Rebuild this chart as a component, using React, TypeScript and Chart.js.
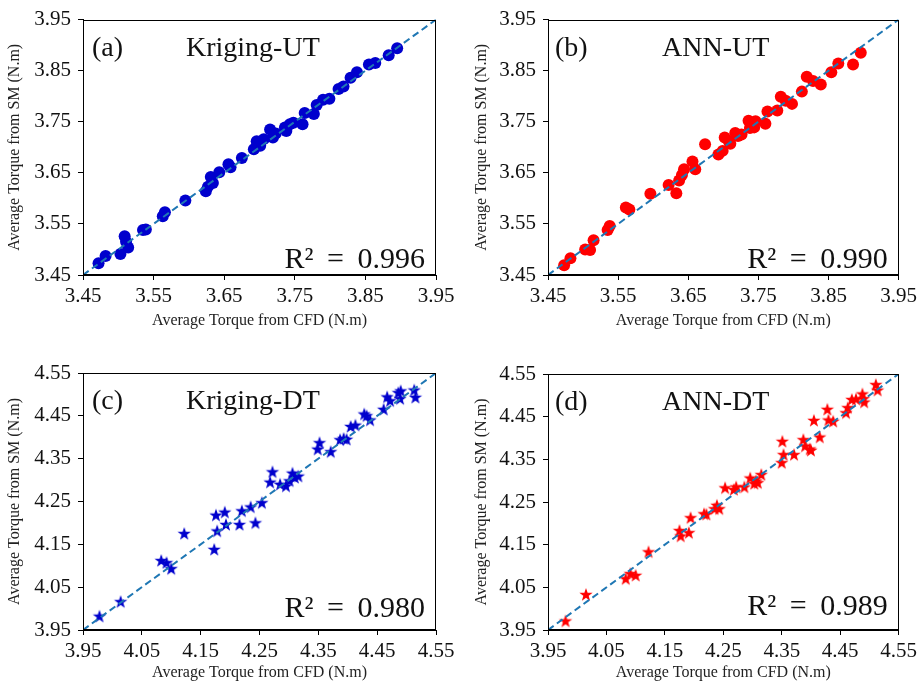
import { useEffect, useRef } from "react";
import { Chart, registerables } from "chart.js";
Chart.register(...registerables);

// ---------- data ----------
const utTicks = [3.45, 3.55, 3.65, 3.75, 3.85, 3.95];
const dtTicks = [3.95, 4.05, 4.15, 4.25, 4.35, 4.45, 4.55];
const utRange = [3.45, 3.95];
const dtRange = [3.95, 4.55];

const krigingUtCfd = [3.472, 3.482, 3.503, 3.509, 3.514, 3.511, 3.535, 3.539, 3.563, 3.566, 3.595, 3.624, 3.627, 3.631, 3.634, 3.643, 3.656, 3.659, 3.675, 3.692, 3.696, 3.701, 3.706, 3.715, 3.719, 3.723, 3.736, 3.738, 3.743, 3.748, 3.761, 3.764, 3.777, 3.781, 3.790, 3.799, 3.812, 3.819, 3.829, 3.838, 3.855, 3.864, 3.883, 3.895];
const krigingUtSm = [3.473, 3.487, 3.491, 3.526, 3.504, 3.515, 3.538, 3.539, 3.565, 3.573, 3.596, 3.614, 3.623, 3.642, 3.630, 3.651, 3.667, 3.661, 3.679, 3.696, 3.712, 3.703, 3.716, 3.735, 3.719, 3.727, 3.739, 3.732, 3.745, 3.748, 3.745, 3.767, 3.765, 3.783, 3.793, 3.795, 3.814, 3.819, 3.836, 3.847, 3.862, 3.865, 3.880, 3.894];

const annUtCfd = [3.473, 3.482, 3.503, 3.510, 3.515, 3.535, 3.538, 3.561, 3.566, 3.596, 3.622, 3.633, 3.637, 3.641, 3.644, 3.656, 3.660, 3.674, 3.693, 3.699, 3.702, 3.708, 3.710, 3.717, 3.721, 3.726, 3.736, 3.738, 3.746, 3.744, 3.760, 3.763, 3.777, 3.782, 3.789, 3.798, 3.812, 3.819, 3.828, 3.839, 3.854, 3.864, 3.885, 3.896];
const annUtSm = [3.469, 3.483, 3.500, 3.499, 3.518, 3.538, 3.546, 3.582, 3.578, 3.609, 3.626, 3.610, 3.635, 3.646, 3.657, 3.672, 3.657, 3.706, 3.686, 3.693, 3.719, 3.712, 3.707, 3.728, 3.722, 3.725, 3.752, 3.738, 3.751, 3.739, 3.746, 3.770, 3.772, 3.799, 3.791, 3.785, 3.809, 3.838, 3.830, 3.823, 3.847, 3.864, 3.862, 3.885];

const krigingDtCfd = [3.978, 4.014, 4.083, 4.092, 4.100, 4.122, 4.173, 4.176, 4.178, 4.191, 4.193, 4.216, 4.220, 4.235, 4.243, 4.254, 4.268, 4.272, 4.285, 4.295, 4.301, 4.306, 4.310, 4.316, 4.349, 4.352, 4.371, 4.387, 4.393, 4.398, 4.405, 4.413, 4.428, 4.432, 4.438, 4.461, 4.467, 4.472, 4.486, 4.489, 4.490, 4.513, 4.515];
const krigingDtSm = [3.981, 4.015, 4.111, 4.106, 4.092, 4.174, 4.137, 4.217, 4.180, 4.224, 4.195, 4.195, 4.227, 4.236, 4.199, 4.246, 4.294, 4.318, 4.289, 4.285, 4.297, 4.315, 4.305, 4.308, 4.371, 4.386, 4.365, 4.393, 4.396, 4.394, 4.424, 4.427, 4.453, 4.449, 4.439, 4.464, 4.493, 4.484, 4.503, 4.489, 4.507, 4.509, 4.492];

const annDtCfd = [3.980, 4.015, 4.083, 4.091, 4.100, 4.122, 4.175, 4.177, 4.191, 4.194, 4.217, 4.221, 4.235, 4.239, 4.243, 4.253, 4.268, 4.272, 4.286, 4.296, 4.303, 4.306, 4.309, 4.315, 4.350, 4.351, 4.353, 4.371, 4.387, 4.390, 4.398, 4.400, 4.405, 4.415, 4.428, 4.430, 4.438, 4.460, 4.463, 4.470, 4.477, 4.488, 4.491, 4.490, 4.511, 4.514];
const annDtSm = [3.970, 4.032, 4.069, 4.081, 4.077, 4.132, 4.182, 4.169, 4.177, 4.212, 4.221, 4.220, 4.233, 4.241, 4.233, 4.282, 4.278, 4.284, 4.284, 4.305, 4.292, 4.298, 4.294, 4.313, 4.341, 4.391, 4.360, 4.360, 4.395, 4.380, 4.373, 4.370, 4.440, 4.401, 4.466, 4.441, 4.438, 4.458, 4.470, 4.489, 4.490, 4.502, 4.483, 4.491, 4.524, 4.511];

const panelLabels = ["(a)", "(b)", "(c)", "(d)"];
const panelTitles = ["Kriging-UT", "ANN-UT", "Kriging-DT", "ANN-DT"];
const r2Values = ["0.996", "0.990", "0.980", "0.989"];
const xAxisTitle = "Average Torque from CFD (N.m)";
const yAxisTitle = "Average Torque from SM (N.m)";

// ---------- layout / style ----------
const SERIF = "'Liberation Serif', 'Times New Roman', serif";
const BLUE = "#0000cd";
const RED = "#ff0000";
const DIAG = "#1f77b4";

type PanelCfg = {
  left: number; top: number; width: number; height: number;
  yw: number; xh: number; padRight: number; padTop: number;
  yTitlePad: number; xTitlePad: number;
  labelDx: number; titleDx: number; r2Dy: number;
  cfd: number[]; sm: number[]; range: number[]; ticks: number[];
  color: string; star: boolean; idx: number;
};

const panels: PanelCfg[] = [
  { left: 0, top: 0, width: 460, height: 341, yw: 83, xh: 66, padRight: 24, padTop: 17, yTitlePad: 7, xTitlePad: 12, labelDx: 9, titleDx: 103, r2Dy: 7, cfd: krigingUtCfd, sm: krigingUtSm, range: utRange, ticks: utTicks, color: BLUE, star: false, idx: 0 },
  { left: 460, top: 0, width: 461, height: 341, yw: 88, xh: 66, padRight: 20, padTop: 17, yTitlePad: 14, xTitlePad: 12, labelDx: 7, titleDx: 114, r2Dy: 7, cfd: annUtCfd, sm: annUtSm, range: utRange, ticks: utTicks, color: RED, star: false, idx: 1 },
  { left: 0, top: 341, width: 460, height: 341, yw: 83, xh: 52, padRight: 24, padTop: 32, yTitlePad: 7, xTitlePad: 1, labelDx: 9, titleDx: 103, r2Dy: 13, cfd: krigingDtCfd, sm: krigingDtSm, range: dtRange, ticks: dtTicks, color: BLUE, star: true, idx: 2 },
  { left: 460, top: 341, width: 461, height: 341, yw: 88, xh: 52, padRight: 20, padTop: 33, yTitlePad: 14, xTitlePad: 1, labelDx: 7, titleDx: 114, r2Dy: 15, cfd: annDtCfd, sm: annDtSm, range: dtRange, ticks: dtTicks, color: RED, star: true, idx: 3 },
];

function makeStar(color: string, r: number) {
  const s = Math.ceil(r * 2 + 2);
  const c = document.createElement("canvas");
  c.width = s; c.height = s;
  const ctx = c.getContext("2d")!;
  ctx.beginPath();
  for (let i = 0; i < 10; i++) {
    const a = -Math.PI / 2 + (i * Math.PI) / 5;
    const rr = i % 2 === 0 ? r : r * 0.4;
    ctx.lineTo(s / 2 + rr * Math.cos(a), s / 2 + rr * Math.sin(a));
  }
  ctx.closePath();
  ctx.fillStyle = color;
  ctx.fill();
  return c;
}

const boxPlugin = {
  id: "box",
  afterDatasetsDraw(chart: any) {
    const { ctx, chartArea: a } = chart;
    ctx.save();
    ctx.strokeStyle = "#000";
    ctx.lineWidth = 1;
    ctx.strokeRect(Math.round(a.left) + 0.5, Math.round(a.top) + 0.5, Math.round(a.right - a.left) - 1, Math.round(a.bottom - a.top) - 1);
    ctx.restore();
  },
};

function textPlugin(p: PanelCfg) {
  return {
    id: "texts",
    afterDraw(chart: any) {
      const { ctx, chartArea: a } = chart;
      ctx.save();
      ctx.fillStyle = "#111";
      ctx.textBaseline = "alphabetic";
      ctx.font = `28px ${SERIF}`;
      ctx.textAlign = "left";
      ctx.fillText(panelLabels[p.idx], a.left + p.labelDx, a.top + 36);
      ctx.fillText(panelTitles[p.idx], a.left + p.titleDx, a.top + 36);
      ctx.font = `30px ${SERIF}`;
      ctx.textAlign = "right";
      ctx.fillText(`R\u00B2 \u2009=\u2009 ${r2Values[p.idx]}`, a.right - 11, a.bottom - p.r2Dy);
      ctx.restore();
    },
  };
}

function axisCommon(p: PanelCfg, horizontal: boolean) {
  return {
    type: "linear" as const,
    min: p.range[0],
    max: p.range[1],
    afterBuildTicks: (s: any) => { s.ticks = p.ticks.map((v) => ({ value: v })); },
    afterFit: (s: any) => { if (horizontal) s.height = p.xh; else s.width = p.yw; },
    grid: { drawOnChartArea: false, drawTicks: true, tickLength: 5, color: "#000", lineWidth: 1 },
    border: { display: true, color: "#000", width: 1 },
    ticks: {
      font: { family: SERIF, size: 21 },
      color: "#111",
      padding: horizontal ? 4 : 7,
      maxRotation: 0,
      autoSkip: false,
      callback: (v: any) => Number(v).toFixed(2),
    },
    title: {
      display: true,
      text: horizontal ? xAxisTitle : yAxisTitle,
      font: { family: SERIF, size: 16, lineHeight: 1 },
      color: "#222",
      padding: horizontal ? { top: 0, bottom: p.xTitlePad } : { top: p.yTitlePad, bottom: 0 },
    },
  };
}

function Panel({ p }: { p: PanelCfg }) {
  const ref = useRef<HTMLCanvasElement>(null);
  useEffect(() => {
    if (!ref.current) return;
    const pts = p.cfd.map((x, i) => ({ x, y: p.sm[i] }));
    const diag = [{ x: p.range[0], y: p.range[0] }, { x: p.range[1], y: p.range[1] }];
    const chart = new Chart(ref.current, {
      type: "scatter",
      data: {
        datasets: [
          {
            type: "line",
            data: diag,
            borderColor: DIAG,
            borderWidth: 2,
            borderDash: [7, 4],
            pointRadius: 0,
            fill: false,
            order: 0,
          } as any,
          {
            data: pts,
            pointStyle: p.star ? makeStar(p.color, 7) : "circle",
            pointRadius: 6,
            backgroundColor: p.color,
            borderColor: p.color,
            borderWidth: 0,
            order: 1,
          } as any,
        ],
      },
      options: {
        animation: false,
        responsive: false,
        events: [],
        layout: { padding: { left: 0, right: p.padRight, top: p.padTop, bottom: 0 } },
        plugins: { legend: { display: false }, tooltip: { enabled: false } },
        scales: { x: axisCommon(p, true) as any, y: axisCommon(p, false) as any },
      },
      plugins: [boxPlugin, textPlugin(p)],
    });
    return () => chart.destroy();
  }, [p]);
  return (
    <canvas
      ref={ref}
      width={p.width}
      height={p.height}
      style={{ position: "absolute", left: p.left, top: p.top, width: p.width, height: p.height }}
    />
  );
}

export default function App() {
  return (
    <div style={{ position: "fixed", left: 0, top: 0, width: 921, height: 682, background: "#fff", overflow: "hidden" }}>
      {panels.map((p) => (
        <Panel key={p.idx} p={p} />
      ))}
    </div>
  );
}
